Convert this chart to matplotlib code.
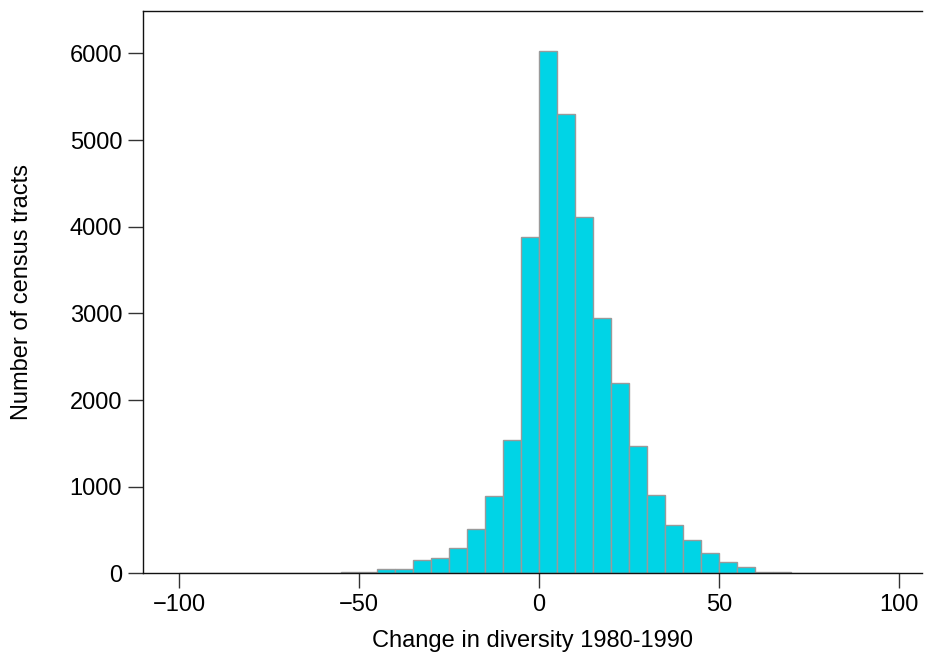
import numpy as np
import matplotlib
matplotlib.use("Agg")
import matplotlib.pyplot as plt

# ── Data ─────────────────────────────────────────────────────────────────────
bin_left = [-100, -95, -90, -85, -80, -75, -70, -65, -60, -55, -50, -45, -40,
            -35, -30, -25, -20, -15, -10, -5, 0, 5, 10, 15, 20, 25, 30, 35,
            40, 45, 50, 55, 60, 65, 70, 75, 80, 85, 90, 95]
counts = [0, 0, 0, 0, 0, 2, 3, 1, 5, 11, 20, 45, 55,
          150, 182, 290, 507, 892, 1538, 3880, 6030, 5300, 4115, 2942, 2199, 1469, 903, 557,
          384, 238, 134, 69, 20, 18, 5, 0, 0, 0, 0, 0]
bin_width = 5

x_ticks = [-100, -50, 0, 50, 100]
y_ticks = [0, 1000, 2000, 3000, 4000, 5000, 6000]

# ── Plot ─────────────────────────────────────────────────────────────────────
plt.rcParams['font.family'] = ['Liberation Sans', 'DejaVu Sans']

fig = plt.figure(figsize=(9.25, 6.52), dpi=100)
ax = fig.add_axes([0.1546, 0.1207, 0.8422, 0.8624])

ax.bar(bin_left, counts, width=bin_width, align='edge',
       color='#00d4e6', edgecolor='#9a9a9a', linewidth=1.0)

ax.set_xlim(-110, 106.4)
ax.set_ylim(0, 6490)
ax.set_xticks(x_ticks)
ax.set_yticks(y_ticks)

ax.spines['right'].set_visible(False)
for s in ('left', 'top', 'bottom'):
    ax.spines[s].set_linewidth(1.0)
    ax.spines[s].set_color('#111111')

ax.tick_params(direction='out', length=11, width=1.0, color='#333333',
               labelsize=17, pad=4)

ax.set_xlabel('Change in diversity 1980-1990', fontsize=17, labelpad=10)
ax.set_ylabel('Number of census tracts', fontsize=17, labelpad=26)

fig.savefig('out.png', dpi=100)
